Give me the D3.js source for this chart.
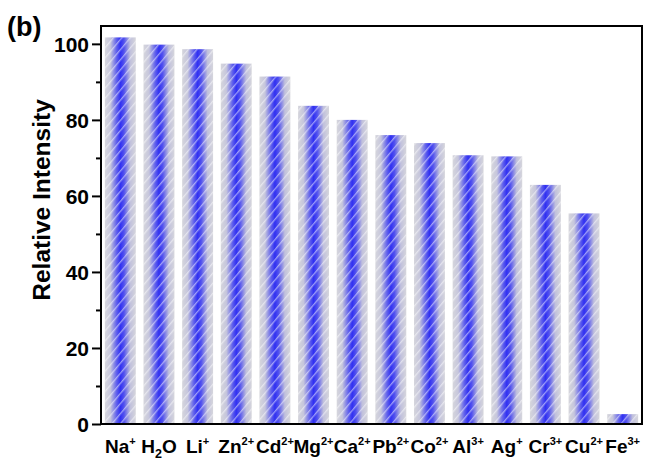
<!DOCTYPE html>
<html>
<head>
<meta charset="utf-8">
<script src="https://cdn.jsdelivr.net/npm/d3@7"></script>
<style>
  body { margin: 0; background: #fff; }
  text { font-family: 'Liberation Sans', Arial, sans-serif; fill: #000; }
</style>
</head>
<body>
<svg id="chart" width="646" height="461"></svg>
<script>
// data, ^ = superscript, _ = subscript
const ions = ['Na^+', 'H_2O', 'Li^+', 'Zn^2+', 'Cd^2+', 'Mg^2+', 'Ca^2+', 'Pb^2+', 'Co^2+', 'Al^3+', 'Ag^+', 'Cr^3+', 'Cu^2+', 'Fe^3+']
const intensity = [101.7, 99.8, 98.6, 94.8, 91.4, 83.7, 80.0, 76.0, 73.9, 70.7, 70.4, 62.9, 55.4, 2.6]
const majorTicks = [0, 20, 40, 60, 80, 100]
const minorTicks = [10, 30, 50, 70, 90]

const margin = { left: 101, right: 4, top: 26, bottom: 37 }
const width = 646
const height = 461

const svg = d3.select('#chart')

const x = d3.scaleBand()
  .domain(ions)
  .range([margin.left, width - margin.right])
  .paddingInner(0.2)
  .paddingOuter(0.1)

const y = d3.scaleLinear()
  .domain([0, 104.7])
  .range([height - margin.bottom, margin.top])

// bar fills
const defs = svg.append('defs')

const grad = defs.append('linearGradient')
  .attr('id', 'barGrad')
  .attr('x1', 0).attr('x2', 1).attr('y1', 0).attr('y2', 0)

grad.selectAll('stop')
  .data([
    [0, '#d6d6dc'], [0.18, '#c6c6dc'], [0.38, '#6060ec'], [0.5, '#3030f2'],
    [0.62, '#5252ee'], [0.82, '#c0c0dc'], [1, '#d6d6dc']
  ])
  .enter()
  .append('stop')
  .attr('offset', d => d[0])
  .attr('stop-color', d => d[1])

const stripes = defs.append('pattern')
  .attr('id', 'stripes')
  .attr('patternUnits', 'userSpaceOnUse')
  .attr('width', 6.5)
  .attr('height', 20)
  .attr('patternTransform', 'rotate(40)')

stripes.append('rect')
  .attr('x', 0).attr('y', 0)
  .attr('width', 1.3).attr('height', 20)
  .attr('fill', '#fff')
  .attr('fill-opacity', 0.5)

const bars = svg.append('g')
  .selectAll('g')
  .data(ions)
  .enter()
  .append('g')

bars.append('rect')
  .attr('x', d => x(d))
  .attr('y', (d, i) => y(intensity[i]))
  .attr('width', x.bandwidth())
  .attr('height', (d, i) => y(0) - y(intensity[i]))
  .attr('fill', 'url(#barGrad)')

bars.append('rect')
  .attr('x', d => x(d))
  .attr('y', (d, i) => y(intensity[i]))
  .attr('width', x.bandwidth())
  .attr('height', (d, i) => y(0) - y(intensity[i]))
  .attr('fill', 'url(#stripes)')

// y axis
const yAxis = svg.append('g')
  .attr('transform', `translate(${margin.left},0)`)
  .call(d3.axisLeft(y).tickValues(majorTicks).tickSize(9).tickPadding(3).tickFormat(d3.format('d')))

yAxis.select('.domain').remove()
yAxis.selectAll('.tick line').attr('stroke-width', 2)
yAxis.selectAll('.tick text')
  .style('font-size', '21px')
  .style('font-weight', 'bold')
  .attr('dy', '0.36em')

const yMinor = svg.append('g')
  .attr('transform', `translate(${margin.left},0)`)
  .call(d3.axisLeft(y).tickValues(minorTicks).tickSize(5).tickFormat(''))

yMinor.select('.domain').remove()
yMinor.selectAll('.tick line').attr('stroke-width', 2)

// frame
svg.append('rect')
  .attr('x', margin.left)
  .attr('y', margin.top)
  .attr('width', width - margin.right - margin.left)
  .attr('height', y(0) - margin.top)
  .attr('fill', 'none')
  .attr('stroke', '#000')
  .attr('stroke-width', 2)

// x labels with super/subscripts
const xLabels = svg.append('g')
  .selectAll('text')
  .data(ions)
  .enter()
  .append('text')
  .attr('x', d => x(d) + x.bandwidth() / 2)
  .attr('y', 453)
  .attr('text-anchor', 'middle')
  .style('font-weight', 'bold')

xLabels.each(function (d) {
  const t = d3.select(this)
  const parts = d.match(/[A-Za-z]+|\^[0-9]*\+|_[0-9]+/g)
  let shift = 0
  parts.forEach(p => {
    let dy = 0
    let size = 19
    let txt = p
    if (p[0] === '^') { dy = -8 - shift; shift = -8; size = 11; txt = p.slice(1) }
    else if (p[0] === '_') { dy = 5 - shift; shift = 5; size = 12.5; txt = p.slice(1) }
    else { dy = -shift; shift = 0 }
    t.append('tspan')
      .attr('dy', dy)
      .style('font-size', size + 'px')
      .text(txt)
  })
})

// y title
svg.append('text')
  .attr('transform', 'translate(50,200) rotate(-90)')
  .attr('text-anchor', 'middle')
  .style('font-size', '24.5px')
  .style('font-weight', 'bold')
  .text('Relative Intensity')

// panel label
svg.append('text')
  .attr('x', 7)
  .attr('y', 36)
  .style('font-size', '27px')
  .style('font-weight', 'bold')
  .text('(b)')
</script>
</body>
</html>
